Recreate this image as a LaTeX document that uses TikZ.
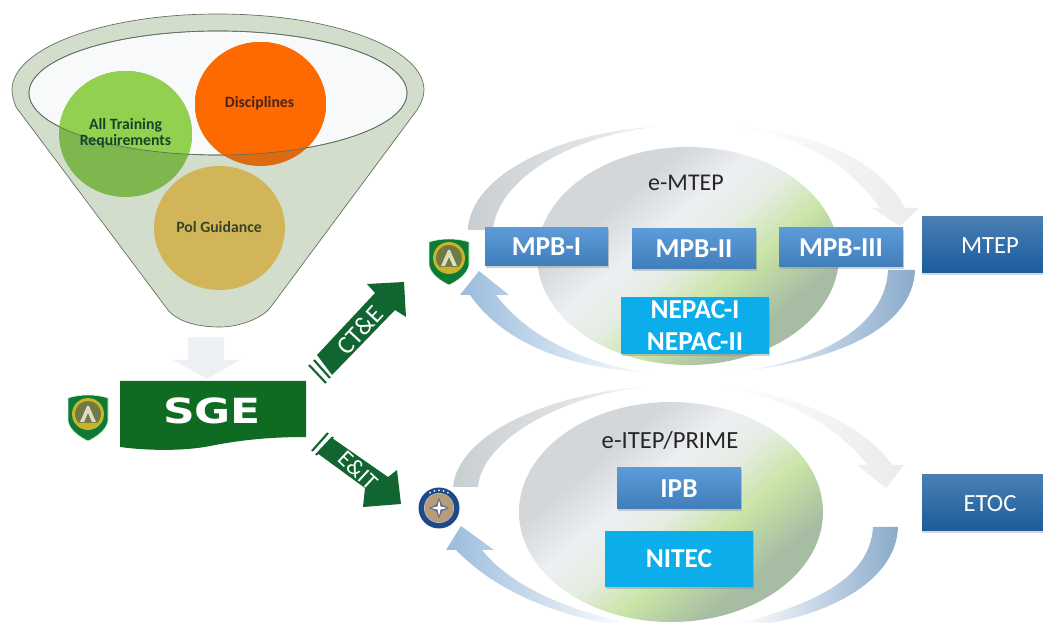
\documentclass[tikz,border=0pt]{standalone}
\usepackage{fontspec}
\setmainfont{Carlito}
\newfontfamily\sgefont{DejaVu Sans}
\usetikzlibrary{shadows,shapes.geometric}
\definecolor{funnelbody}{HTML}{D2DDCB}
\definecolor{funnelline}{HTML}{5F6F5C}
\definecolor{rimfill}{HTML}{F7F9FB}
\definecolor{reqbright}{HTML}{92D050}
\definecolor{reqdark}{HTML}{7FB74F}
\definecolor{discbright}{HTML}{FF6A00}
\definecolor{discdark}{HTML}{DC6A10}
\definecolor{polfill}{HTML}{D2B558}
\definecolor{sgegreen}{HTML}{0F6B21}
\definecolor{arrowgreen}{HTML}{116530}
\definecolor{paleblue}{HTML}{EDF0F4}
\definecolor{cyanbox}{HTML}{0BADEB}
\definecolor{orbA}{HTML}{D4D7DA}
\definecolor{orbB}{HTML}{EDEFF2}
\definecolor{orbB2}{HTML}{E6EDE4}
\definecolor{orbC}{HTML}{C9E4A6}
\definecolor{orbD}{HTML}{A6BDA3}
\definecolor{BoxTop}{HTML}{5C9BD8}
\definecolor{BoxBot}{HTML}{3F7DBB}
\definecolor{DarkTop}{HTML}{4A7FB4}
\definecolor{DarkBot}{HTML}{1A5C9C}
\definecolor{EmblemGreen}{HTML}{0F7A35}
\definecolor{EmblemOlive}{HTML}{6F7A45}
\definecolor{EmblemGold}{HTML}{C9B32A}
\definecolor{EmblemPale}{HTML}{DDDDC4}
\definecolor{EmblemNavy}{HTML}{1E4A8A}
\definecolor{EmblemTan}{HTML}{B89C78}
\definecolor{EmblemSlate}{HTML}{4F6C93}
\definecolor{LoopGrey}{HTML}{C9CED2}
\definecolor{LoopPale}{HTML}{E9EBED}
\definecolor{LoopBlue}{HTML}{9ABCDC}
\definecolor{LoopBlueB}{HTML}{8AABCB}
\definecolor{ReqText}{HTML}{12452A}
\definecolor{DiscText}{HTML}{4A2418}
\definecolor{PolText}{HTML}{35452C}
\pgfdeclarehorizontalshading{orbgrad}{100bp}{
 color(0bp)=(orbA);
 color(33bp)=(orbA);
 color(43bp)=(orbB);
 color(50bp)=(orbB2);
 color(59bp)=(orbC);
 color(70bp)=(orbD);
 color(100bp)=(orbD)}
\tikzset{
  orb/.style={shading=orbgrad,shading angle=-50},
  blueb/.style={rectangle,top color=BoxTop,bottom color=BoxBot,text=white,inner sep=0pt,font=\bfseries\fontsize{20.5}{20.5}\selectfont,drop shadow={shadow xshift=1pt,shadow yshift=-1.5pt,opacity=.35}},
  darkb/.style={rectangle,top color=DarkTop,bottom color=DarkBot,inner sep=0pt,drop shadow={shadow xshift=0pt,shadow yshift=-1.5pt,opacity=.3}},
  darktext/.style={text=white,inner sep=0pt,font=\fontsize{18.5}{18.5}\selectfont},
  cyanb/.style={rectangle,fill=cyanbox,text=white,inner sep=0pt,align=center,font=\bfseries\fontsize{20.5}{24.5}\selectfont,drop shadow={shadow xshift=1pt,shadow yshift=-1.5pt,opacity=.35}},
  funnellabel/.style={font=\bfseries\fontsize{11.8}{12.3}\selectfont,align=center},
  disc/.style={ellipse,inner sep=0pt},
  greentext/.style={text=white,font=\fontsize{19}{19}\selectfont,inner sep=0pt},
  orbtitle/.style={text=black!85,font=\fontsize{18}{18}\selectfont,inner sep=0pt},
  grayarc/.style={left color=#1,right color=#1!30!white,draw=none},
  fadeR/.style={left color=white,middle color=#1!55!white,right color=#1,draw=none},
  fadeL/.style={left color=#1,middle color=#1!75!white,right color=white,draw=none},
  acapemblem/.pic={
    \fill[draw=white!80!green,line width=.4pt,fill=EmblemGreen] (-20,-19) .. controls (-8,-23) and (8,-23) .. (20,-19) -- (20,4) .. controls (18,14) and (8,20) .. (0,24) .. controls (-8,20) and (-18,14) .. (-20,4) -- cycle;
    \fill[EmblemOlive] (0,-3) circle[radius=15];
    \draw[EmblemGold,line width=2.2pt] (0,-3) circle[radius=14.5];
    \fill[EmblemPale] (-8,5) -- (-1,-11) -- (1,-11) -- (8,5) -- (4,5) -- (0,-4) -- (-4,5) -- cycle;
    \fill[EmblemGold] (-10,6) -- (10,6) -- (7,10) -- (-7,10) -- cycle;
  },
  natoemblem/.pic={
    \fill[EmblemNavy] (0,0) circle[radius=20.5];
    \fill[white!70!EmblemNavy] (0,0) circle[radius=15];
    \fill[EmblemTan] (0,0) circle[radius=14.5];
    \fill[EmblemSlate] (0,-10) -- (3,-3) -- (10,0) -- (3,3) -- (0,10) -- (-3,3) -- (-10,0) -- (-3,-3) -- cycle;
    \fill[white] (0,-8) -- (1.5,-1.5) -- (8,0) -- (1.5,1.5) -- (0,8) -- (-1.5,1.5) -- (-8,0) -- (-1.5,-1.5) -- cycle;
    \foreach \a in {-120,-105,-90,-75,-60} \fill[white] (\a:17.7) circle[radius=1];
  }
}
\begin{document}
\begin{tikzpicture}[x=.75pt,y=-.75pt]
\useasboundingbox (0,0) rectangle (1043,623);
\clip (0,0) rectangle (1043,623);
\fill[white] (0,0) rectangle (1043,623);

% funnel
\path[fill=funnelbody,draw=funnelline,line width=.5pt]
  (12,90) .. controls (12,48) and (104,14) .. (218,14)
  .. controls (332,14) and (424,48) .. (424,90)
  .. controls (424,97) and (421,104) .. (417,110)
  -- (270,308) .. controls (262,318) and (240,327) .. (220,327)
  .. controls (198,327) and (178,322) .. (168,310)
  -- (16,107) .. controls (14,102) and (12,96) .. (12,90) -- cycle;
\path[fill=rimfill,draw=funnelline,line width=.5pt] (218,93) ellipse [x radius=189,y radius=62];

% circles (the part below the rim is darker)
\node[disc,fill=reqdark,minimum width=133*.75pt,minimum height=126*.75pt] (reqdisc) at (125.5,134) {};
\node[disc,fill=discdark,minimum width=131*.75pt,minimum height=124*.75pt] (discdisc) at (260.5,104) {};
\node[disc,fill=polfill,minimum width=131*.75pt,minimum height=124*.75pt] (poldisc) at (219.5,228) {};
\begin{scope}
  \clip (218,93) ellipse [x radius=189,y radius=62];
  \fill[reqbright] (125.5,134) ellipse [x radius=66.5,y radius=63];
  \fill[discbright] (260.5,104) ellipse [x radius=65.5,y radius=62];
\end{scope}
\draw[funnelline,line width=.5pt] (218,93) ellipse [x radius=189,y radius=62];
\node[funnellabel,text=ReqText] (reqlabel) at (125.5,133) {All Training\\Requirements};
\node[funnellabel,text=DiscText] (disclabel) at (259.5,103) {Disciplines};
\node[funnellabel,text=PolText] (pollabel) at (219,227) {Pol Guidance};

% down arrow
\fill[paleblue] (188,337) -- (224,337) -- (224,360) -- (240,360) -- (207,379) -- (173,360) -- (188,360) -- cycle;

% SGE banner
\path[fill=sgegreen] (120,381) -- (306,381) -- (306,437)
  .. controls (270,437) and (240,440) .. (210,446)
  .. controls (185,451) and (150,451) .. (120,447) -- cycle;
\node[text=white,inner sep=0pt] (sge) at (212,411) {\scalebox{1.27}[1]{\sgefont\bfseries\fontsize{26}{26}\selectfont SGE}};
\pic at (88,417) {acapemblem};

% CT&E arrow
\fill[arrowgreen] (317,355) -- (375,293) -- (367,284) -- (404,282) -- (406,317) -- (395,310) -- (332,375) -- cycle;
\draw[arrowgreen,line width=1.6pt] (314,360) -- (330,378);
\draw[arrowgreen,line width=1.6pt] (309,365) -- (326,383);
\node[greentext,rotate=47] (cte) at (360,330) {CT\&E};

% E&IT arrow
\fill[arrowgreen] (332,438) -- (388,477) -- (397,470) -- (401,504) -- (363,507) -- (365,488) -- (317,453) -- cycle;
\draw[arrowgreen,line width=1.6pt] (328,433) -- (312,451);
\draw[arrowgreen,line width=1.6pt] (333,437) -- (316,455);
\node[greentext,rotate=-43,font=\fontsize{17.5}{17.5}\selectfont] (eit) at (358,470) {E\&IT};

% upper loop
\path[orb] (688,256) ellipse [x radius=151,y radius=109];
\path[grayarc=LoopGrey] (468,230) .. controls (470,175) and (560,132) .. (655,127)
  .. controls (570,136) and (497,180) .. (493,230) -- cycle;
\path[fadeR=LoopPale] (735,127) .. controls (810,130) and (880,160) .. (905,208)
  -- (919,208) -- (900,226) -- (872,208) -- (880,208)
  .. controls (850,165) and (800,135) .. (735,127) -- cycle;
\path[fadeL=LoopBlue] (652,373) .. controls (570,368) and (505,345) .. (470,295)
  -- (460,295) -- (479,271) -- (509,295) -- (496,295)
  .. controls (530,340) and (590,365) .. (652,373) -- cycle;
\path[fadeR=LoopBlueB] (720,373) .. controls (800,368) and (885,335) .. (888,270)
  -- (915,270) .. controls (913,330) and (830,365) .. (720,373) -- cycle;

\node[orbtitle] (emtep) at (686,183) {e-MTEP};
\node[blueb,minimum width=123*.75pt,minimum height=38*.75pt] (mpb1) at (546.5,247) {MPB-I};
\node[blueb,minimum width=124*.75pt,minimum height=40*.75pt] (mpb2) at (694,249) {MPB-II};
\node[blueb,minimum width=124*.75pt,minimum height=39*.75pt] (mpb3) at (841,247.5) {MPB-III};
\node[cyanb,minimum width=148*.75pt,minimum height=57*.75pt] (nepac) at (695,325.5) {NEPAC-I\\NEPAC-II};
\node[darkb,minimum width=121*.75pt,minimum height=56*.75pt] (mtep) at (982.5,245) {};
\node[darktext] (mteplabel) at (990,246) {MTEP};
\pic at (449,261) {acapemblem};

% lower loop
\path[orb] (671,512) ellipse [x radius=152,y radius=110];
\path[grayarc=LoopGrey] (453,487) .. controls (458,435) and (545,395) .. (642,387)
  .. controls (560,397) and (482,440) .. (478,487) -- cycle;
\path[fadeR=LoopPale] (715,387) .. controls (790,390) and (865,425) .. (892,465)
  -- (904,465) -- (886,488) -- (857,465) -- (868,465)
  .. controls (835,425) and (785,395) .. (715,387) -- cycle;
\path[fadeL=LoopBlue] (605,623) .. controls (540,610) and (490,585) .. (456,550)
  -- (446,550) -- (461,526) -- (494,550) -- (482,550)
  .. controls (510,585) and (565,610) .. (630,623) -- cycle;
\path[fadeR=LoopBlueB] (740,623) .. controls (810,605) and (870,580) .. (873,527)
  -- (898,527) .. controls (896,585) and (820,615) .. (770,623) -- cycle;

\node[orbtitle,font=\fontsize{18.5}{18.5}\selectfont] (eitep) at (670,440) {e-ITEP/PRIME};
\node[blueb,minimum width=124*.75pt,minimum height=41*.75pt] (ipb) at (679,488.5) {IPB};
\node[cyanb,minimum width=148*.75pt,minimum height=56*.75pt] (nitec) at (679,559) {NITEC};
\node[darkb,minimum width=121*.75pt,minimum height=56*.75pt] (etoc) at (982.5,503) {};
\node[darktext] (etoclabel) at (990,504) {ETOC};
\pic at (439,508) {natoemblem};
\end{tikzpicture}
\end{document}
